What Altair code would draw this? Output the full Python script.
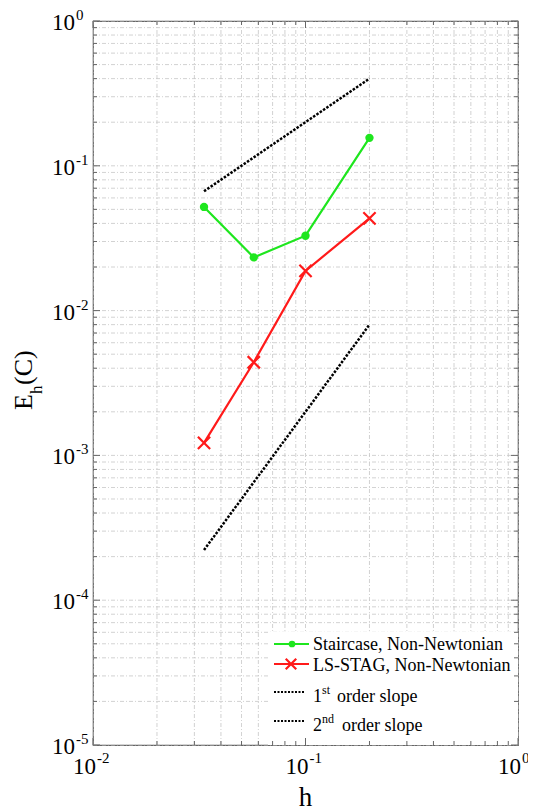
import altair as alt
import pandas as pd

# ---- data ----
h_vals = [0.0333, 0.0571, 0.1, 0.2]
staircase = [0.052, 0.0233, 0.0329, 0.156]
lsstag = [0.00122, 0.0044, 0.0188, 0.0434]
slope1_h = [0.0333, 0.2]
slope1_e = [0.0667, 0.4]
slope2_h = [0.0333, 0.2]
slope2_e = [0.000222, 0.008]

x_major = [0.01, 0.1, 1.0]
x_exp = ["-2", "-1", "0"]
y_major = [1e-5, 1e-4, 1e-3, 1e-2, 1e-1, 1.0]
y_exp = ["-5", "-4", "-3", "-2", "-1", "0"]
x_minor = [m * d for d in [0.01, 0.1] for m in range(2, 10)]
y_minor = [m * d for d in [1e-5, 1e-4, 1e-3, 1e-2, 1e-1] for m in range(2, 10)]

W, H = 425, 724
FONT = "Liberation Serif"

xs = alt.Scale(type="log", domain=[0.01, 1], nice=False)
ys = alt.Scale(type="log", domain=[1e-5, 1], nice=False)

df_s = pd.DataFrame({"h": h_vals, "e": staircase})
df_l = pd.DataFrame({"h": h_vals, "e": lsstag})
df_1 = pd.DataFrame({"h": slope1_h, "e": slope1_e})
df_2 = pd.DataFrame({"h": slope2_h, "e": slope2_e})

all_x = sorted(x_major + x_minor)
all_y = sorted(y_major + y_minor)


def xq(f="h"):
    return alt.X(f"{f}:Q", scale=xs, axis=None)


def yq(f="e"):
    return alt.Y(f"{f}:Q", scale=ys, axis=None)


GRID = "#c6c6c6"
GDASH = [4, 2, 1, 2]
vgrid = alt.Chart(pd.DataFrame({"h": all_x})).mark_rule(color=GRID, strokeWidth=0.8, strokeDash=GDASH).encode(
    x=xq(), y=alt.value(0), y2=alt.value(H))
hgrid = alt.Chart(pd.DataFrame({"e": all_y})).mark_rule(color=GRID, strokeWidth=0.8, strokeDash=GDASH).encode(
    y=yq(), x=alt.value(0), x2=alt.value(W))

slope1 = alt.Chart(df_1).mark_line(color="black", strokeWidth=2.5, strokeDash=[2.5, 1.5]).encode(x=xq(), y=yq())
slope2 = alt.Chart(df_2).mark_line(color="black", strokeWidth=2.5, strokeDash=[2.5, 1.5]).encode(x=xq(), y=yq())

GREEN = "#1ee61e"
RED = "#ff1a1a"
XSHAPE = "M-1,-1L1,1M-1,1L1,-1"

s_line = alt.Chart(df_s).mark_line(color=GREEN, strokeWidth=2.2).encode(x=xq(), y=yq())
s_pts = alt.Chart(df_s).mark_point(color=GREEN, filled=True, size=70, opacity=1, shape="circle").encode(x=xq(), y=yq())
l_line = alt.Chart(df_l).mark_line(color=RED, strokeWidth=2.2).encode(x=xq(), y=yq())
l_pts = alt.Chart(df_l).mark_point(color=RED, shape=XSHAPE, size=150, strokeWidth=2.2, opacity=1).encode(x=xq(), y=yq())

one = pd.DataFrame({"a": [0]})

# legend (manual)
leg_box = alt.Chart(one).mark_rect(fill="white").encode(
    x=alt.value(175), x2=alt.value(W), y=alt.value(611), y2=alt.value(H))
leg_g = alt.Chart(one).mark_rule(color=GREEN, strokeWidth=2.2).encode(
    x=alt.value(181), x2=alt.value(216), y=alt.value(623))
leg_gp = alt.Chart(one).mark_point(color=GREEN, filled=True, size=45, opacity=1).encode(
    x=alt.value(199), y=alt.value(623))
leg_r = alt.Chart(one).mark_rule(color=RED, strokeWidth=2.2).encode(
    x=alt.value(181), x2=alt.value(216), y=alt.value(643))
leg_rp = alt.Chart(one).mark_point(color=RED, shape=XSHAPE, size=110, strokeWidth=2.2, opacity=1).encode(
    x=alt.value(198), y=alt.value(643))
leg_d1 = alt.Chart(one).mark_rule(color="black", strokeWidth=2, strokeDash=[2, 1.5]).encode(
    x=alt.value(181), x2=alt.value(212), y=alt.value(671))
leg_d2 = alt.Chart(one).mark_rule(color="black", strokeWidth=2, strokeDash=[2, 1.5]).encode(
    x=alt.value(181), x2=alt.value(212), y=alt.value(700))


def txt(s, x, y, size=18, align="left", angle=0, baseline="alphabetic"):
    kw = dict(text=s, fontSize=size, font=FONT, align=align, baseline=baseline, color="black")
    if angle:
        kw["angle"] = angle
    return alt.Chart(one).mark_text(**kw).encode(x=alt.value(x), y=alt.value(y))


leg_texts = [
    txt("Staircase, Non-Newtonian", 220, 629),
    txt("LS-STAG, Non-Newtonian", 220, 650),
    txt("1", 220, 681), txt("st", 229, 673, size=12), txt("order slope", 244, 681),
    txt("2", 220, 710), txt("nd", 229, 702, size=12), txt("order slope", 249, 710),
]

# inward ticks on all four sides
tick_col = "#666"


def xticks(vals, length):
    d = pd.DataFrame({"h": vals})
    b = alt.Chart(d).mark_rule(color=tick_col, strokeWidth=1).encode(x=xq(), y=alt.value(H), y2=alt.value(H - length))
    t = alt.Chart(d).mark_rule(color=tick_col, strokeWidth=1).encode(x=xq(), y=alt.value(0), y2=alt.value(length))
    return [b, t]


def yticks(vals, length):
    d = pd.DataFrame({"e": vals})
    l = alt.Chart(d).mark_rule(color=tick_col, strokeWidth=1).encode(y=yq(), x=alt.value(0), x2=alt.value(length))
    r = alt.Chart(d).mark_rule(color=tick_col, strokeWidth=1).encode(y=yq(), x=alt.value(W), x2=alt.value(W - length))
    return [l, r]


ticks = xticks(x_minor, 4) + xticks(x_major, 7) + yticks(y_minor, 4) + yticks(y_major, 7)

# tick labels: "10" with superscript exponent
dfx = pd.DataFrame({"h": x_major, "ex": x_exp})
xl_base = alt.Chart(dfx).mark_text(text="10", fontSize=23, font=FONT, align="right", baseline="alphabetic", dx=3, color="black").encode(
    x=xq(), y=alt.value(H + 29))
xl_exp = alt.Chart(dfx).mark_text(fontSize=15, font=FONT, align="left", baseline="alphabetic", dx=4, color="black").encode(
    x=xq(), y=alt.value(H + 18), text="ex:N")

dfy = pd.DataFrame({"e": y_major, "ex": y_exp})
yl_base = alt.Chart(dfy).mark_text(text="10", fontSize=23, font=FONT, align="right", baseline="middle", dx=-18, dy=2, color="black").encode(
    x=alt.value(0), y=yq())
yl_exp = alt.Chart(dfy).mark_text(fontSize=15, font=FONT, align="left", baseline="middle", dx=-17, dy=-6, color="black").encode(
    x=alt.value(0), y=yq(), text="ex:N")

# axis titles
xt = txt("h", W / 2, H + 61, size=27, align="center")
yt = [
    txt("E", -61, 389, size=26, angle=270),
    txt("h", -51, 373, size=17, angle=270),
    txt("(C)", -61, 364, size=26, angle=270),
]

chart = alt.layer(
    vgrid, hgrid, slope1, slope2, s_line, s_pts, l_line, l_pts,
    leg_box, leg_g, leg_gp, leg_r, leg_rp, leg_d1, leg_d2, *leg_texts,
    *ticks, xl_base, xl_exp, yl_base, yl_exp, xt, *yt,
).properties(
    width=W, height=H, autosize=alt.AutoSizeParams(type="none"),
    padding={"left": 85, "top": 13, "right": 10, "bottom": 66},
).configure_view(stroke="#666", strokeWidth=1.2)

chart.save("out.html", embed_options={"renderer": "svg", "actions": False})
